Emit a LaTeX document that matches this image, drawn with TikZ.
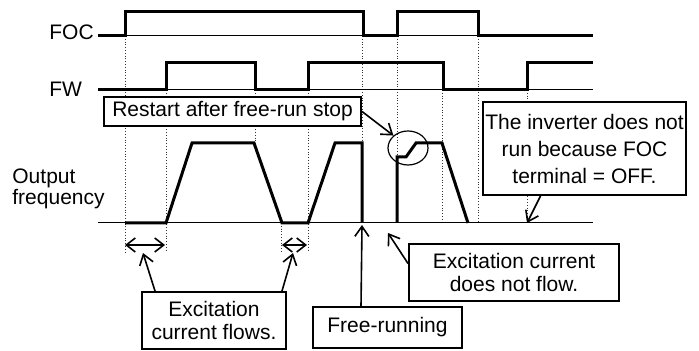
\documentclass[tikz,border=0pt]{standalone}
\usepackage{fontspec}
\setmainfont{Liberation Sans}
\usepackage{tikz}
\usetikzlibrary{arrows.meta,calc,shapes.geometric}
\tikzset{
  tcsig/.style={line width=1.5pt,line join=miter},
  tcbase/.style={line width=0.5pt},
  tcguide/.style={densely dotted,line width=0.4pt,draw=black!80},
  tcnote/.style={draw,line width=1pt,fill=white,inner sep=1pt,align=center,font=\fontsize{10.5}{11.5}\selectfont},
  tclabel/.style={font=\fontsize{10.5}{10.5}\selectfont,anchor=west,align=left,inner sep=0pt},
  tcarrow/.style={-{Straight Barb[length=5pt,width=7pt]},line width=0.8pt},
  tcspan/.style={{Straight Barb[length=4.5pt,width=7pt]}-{Straight Barb[length=4.5pt,width=7pt]},line width=0.8pt}
}
\begin{document}
\begin{tikzpicture}[x=0.5pt,y=-0.5pt]
\useasboundingbox (0,0) rectangle (699,351);
% signal names
\node[tclabel] (foc) at (49,32) {FOC};
\node[tclabel] (fw) at (49,89) {FW};
\node[tclabel] (out) at (12,189) {Output\\frequency};
% timing guides
\foreach \x/\a/\b in {125/36/252,166/90/252,255/90/143,281/223/252,308/90/252,362/36/223,397/36/223,442/90/223,478/36/223,527/90/223}
  {\draw[tcguide] (\x,\a) -- (\x,\b);}
\foreach \y in {36,90,223}{\draw[tcbase] (98,\y) -- (593,\y);}
% waveforms
\draw[tcsig] (98,36) -- (125,36) -- (125,12) -- (363,12) -- (363,36) -- (397,36) -- (397,12) -- (478,12) -- (478,36) -- (593,36);
\draw[tcsig] (98,90) -- (166,90) -- (166,63) -- (255,63) -- (255,90) -- (308,90) -- (308,63) -- (443,63) -- (443,90) -- (527,90) -- (527,63) -- (593,63);
\draw[tcsig] (125,223) -- (166,223) -- (192,143) -- (254,143) -- (282,223) -- (308,223) -- (335,143) -- (362,143) -- (362,223);
\draw[tcsig] (397,223) -- (397,157) -- (406,157) -- (416,143) -- (442,143) -- (468,223);
\node[draw,ellipse,line width=0.6pt,minimum width=20pt,minimum height=17pt,inner sep=0pt] (ring) at (408,148) {};
% callouts
\node[tcnote,minimum width=128.5pt,minimum height=14.5pt] (rst) at (232.5,111.5) {Restart after free-run stop};
\node[tcnote,minimum width=101.5pt,minimum height=46.5pt,font=\fontsize{10.5}{13.5}\selectfont] (inv) at (584.5,148.5) {The inverter does not\\run because FOC\\terminal = OFF.};
\node[tcnote,minimum width=72pt,minimum height=28.5pt] (flw) at (214,320.5) {Excitation\\current flows.};
\node[tcnote,minimum width=74.5pt,minimum height=20.5pt] (frr) at (387.5,327.5) {Free-running};
\node[tcnote,minimum width=105pt,minimum height=28.5pt] (nfl) at (514,272.5) {Excitation current\\does not flow.};
\coordinate (offtip) at (527,223);
\coordinate (frtip) at (362,225);
\coordinate (nftip) at (388,233);
\coordinate (exa) at (143,253);
\coordinate (exb) at (293,253);
\coordinate (spa1) at (125,245);
\coordinate (spa2) at (165,245);
\coordinate (spb1) at (282,245);
\coordinate (spb2) at (307,245);
\draw[tcarrow] (rst.east) -- (ring.north west);
\draw[tcarrow] ($(inv.south)+(-44,0)$) -- (offtip);
\draw[tcarrow] ($(frr.north west)+(49,0)$) -- (frtip);
\draw[tcarrow] ($(nfl.west)+(0,-9)$) -- (nftip);
\draw[tcarrow] ($(flw.north)+(-59,0)$) -- (exa);
\draw[tcarrow] ($(flw.north)+(68,0)$) -- (exb);
\draw[tcspan] (spa1) -- (spa2);
\draw[tcspan] (spb1) -- (spb2);
\end{tikzpicture}
\end{document}
